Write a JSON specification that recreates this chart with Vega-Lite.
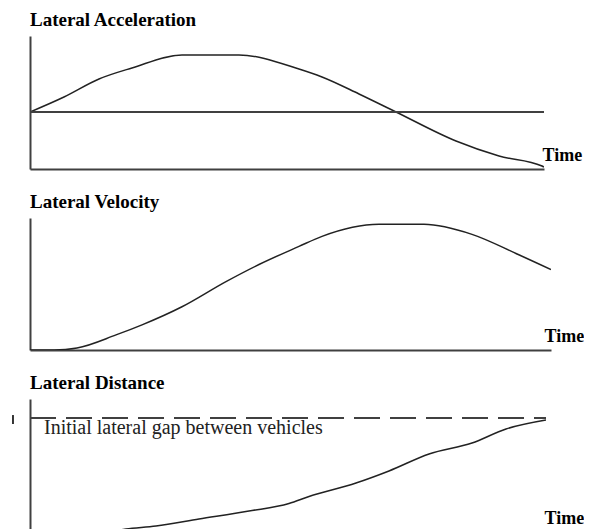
{
  "$schema": "https://vega.github.io/schema/vega-lite/v6.json",
  "background": "white",
  "padding": {"left": 11, "top": 11, "right": 0, "bottom": 0},
  "spacing": 49,
  "bounds": "flush",
  "config": {
    "view": {"stroke": null},
    "axis": {"grid": false, "ticks": false, "labels": false, "domainColor": "#404040", "domainWidth": 2, "titleFont": "Liberation Serif", "titleFontSize": 18, "titleFontWeight": "bold", "titleColor": "black"},
    "title": {"anchor": "start", "frame": "group", "font": "Liberation Serif", "fontSize": 19, "fontWeight": "bold", "color": "black", "offset": 6}
  },
  "datasets": {
    "acc": [
      {"t": 0, "a": 0}, {"t": 0.661, "a": 0.263}, {"t": 1.342, "a": 0.579}, {"t": 1.984, "a": 0.772},
      {"t": 2.957, "a": 1.0}, {"t": 4.066, "a": 1.0}, {"t": 5.233, "a": 0.754}, {"t": 5.681, "a": 0.614},
      {"t": 6.401, "a": 0.316}, {"t": 7.121, "a": 0}, {"t": 8.288, "a": -0.509}, {"t": 9.125, "a": -0.772},
      {"t": 9.961, "a": -0.947}, {"t": 10, "a": -0.965}
    ],
    "vel": [
      {"t": 0, "v": 0}, {"t": 0.461, "v": 0}, {"t": 0.902, "v": 0.016}, {"t": 1.651, "v": 0.12},
      {"t": 2.15, "v": 0.2}, {"t": 2.917, "v": 0.344}, {"t": 3.762, "v": 0.544}, {"t": 4.395, "v": 0.68},
      {"t": 5.163, "v": 0.824}, {"t": 5.605, "v": 0.904}, {"t": 6.699, "v": 1.0}, {"t": 7.562, "v": 1.0},
      {"t": 8.484, "v": 0.92}, {"t": 9.328, "v": 0.768}, {"t": 10, "v": 0.64}
    ],
    "dist": [
      {"t": 0, "d": 0}, {"t": 1.143, "d": 0.008}, {"t": 1.86, "d": 0.059}, {"t": 2.442, "d": 0.085},
      {"t": 3.275, "d": 0.144}, {"t": 4.244, "d": 0.212}, {"t": 5.019, "d": 0.275}, {"t": 5.407, "d": 0.335},
      {"t": 6.318, "d": 0.449}, {"t": 6.957, "d": 0.551}, {"t": 7.733, "d": 0.695}, {"t": 8.566, "d": 0.788},
      {"t": 9.225, "d": 0.907}, {"t": 10, "d": 0.983}
    ],
    "one": [{"k": 1}]
  },
  "vconcat": [
    {
      "title": {"text": "Lateral Acceleration"},
      "width": 514,
      "height": 133,
      "layer": [
        {
          "data": {"name": "acc"},
          "mark": {"type": "line", "color": "#222", "strokeWidth": 1.5, "interpolate": "monotone", "clip": true},
          "encoding": {
            "x": {"field": "t", "type": "quantitative", "scale": {"domain": [0, 10], "nice": false, "zero": false}, "axis": {"title": "Time", "titleAngle": 0, "titleAlign": "left", "titleBaseline": "alphabetic", "titleX": 512, "titleY": -9}},
            "y": {"field": "a", "type": "quantitative", "scale": {"domain": [-1, 1.333], "nice": false, "zero": false}, "axis": {"title": null}}
          }
        },
        {
          "data": {"name": "one"},
          "mark": {"type": "rule", "color": "#404040", "strokeWidth": 2},
          "encoding": {"y": {"datum": 0}}
        }
      ]
    },
    {
      "title": {"text": "Lateral Velocity"},
      "width": 521,
      "height": 132,
      "layer": [
        {
          "data": {"name": "vel"},
          "mark": {"type": "line", "color": "#222", "strokeWidth": 1.5, "interpolate": "monotone", "clip": true},
          "encoding": {
            "x": {"field": "t", "type": "quantitative", "scale": {"domain": [0, 10], "nice": false, "zero": false}, "axis": {"title": "Time", "titleAngle": 0, "titleAlign": "left", "titleBaseline": "alphabetic", "titleX": 514, "titleY": -9}},
            "y": {"field": "v", "type": "quantitative", "scale": {"domain": [0, 1.05], "nice": false, "zero": false}, "axis": {"title": null}}
          }
        }
      ]
    },
    {
      "title": {"text": "Lateral Distance"},
      "width": 516,
      "height": 131,
      "layer": [
        {
          "data": {"name": "dist"},
          "mark": {"type": "line", "color": "#222", "strokeWidth": 1.5, "interpolate": "monotone", "clip": true},
          "encoding": {
            "x": {"field": "t", "type": "quantitative", "scale": {"domain": [0, 10], "nice": false, "zero": false}, "axis": {"title": "Time", "domain": false, "titleAngle": 0, "titleAlign": "left", "titleBaseline": "alphabetic", "titleX": 514, "titleY": -7}},
            "y": {"field": "d", "type": "quantitative", "scale": {"domain": [0.051, 1.161], "nice": false, "zero": false}, "axis": {"title": null}}
          }
        },
        {
          "data": {"name": "one"},
          "mark": {"type": "rule", "color": "#404040", "strokeWidth": 2, "strokeDash": [26, 10]},
          "encoding": {"x": {"datum": 0}, "x2": {"datum": 10}, "y": {"datum": 1}}
        },
        {
          "data": {"name": "one"},
          "mark": {"type": "text", "align": "left", "baseline": "alphabetic", "font": "Liberation Serif", "fontSize": 20, "color": "#222"},
          "encoding": {"x": {"datum": 0.271}, "y": {"datum": 0.864}, "text": {"value": "Initial lateral gap between vehicles"}}
        },
        {
          "data": {"name": "one"},
          "mark": {"type": "rule", "color": "#333", "strokeWidth": 2, "clip": false},
          "encoding": {"x": {"datum": -0.33}, "y": {"datum": 1.025}, "y2": {"datum": 0.949}}
        }
      ]
    }
  ]
}
